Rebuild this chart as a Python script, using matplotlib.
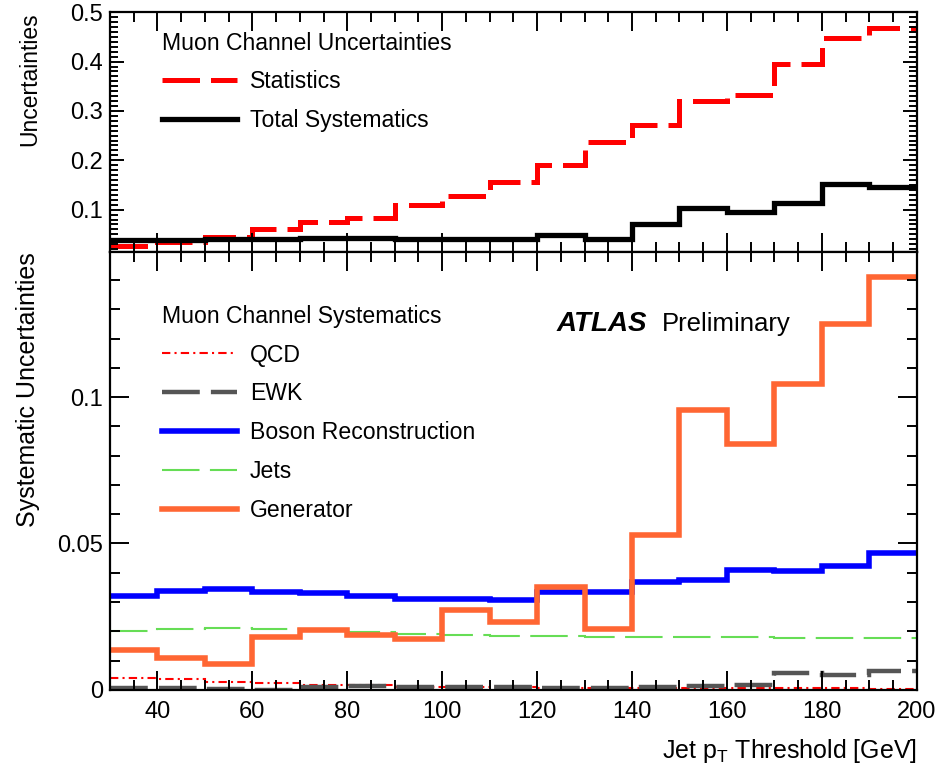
import numpy as np
import matplotlib
matplotlib.use('Agg')
import matplotlib.pyplot as plt
from matplotlib.lines import Line2D
from matplotlib.ticker import MultipleLocator, FuncFormatter

plt.rcParams['font.family'] = ['Liberation Sans', 'DejaVu Sans']

# bin edges of the jet pT threshold
edges = np.arange(30, 201, 10)

# top panel
statistics = [0.026, 0.034, 0.045, 0.060, 0.075, 0.084, 0.110, 0.127, 0.156,
              0.191, 0.238, 0.271, 0.321, 0.333, 0.396, 0.447, 0.468]
total_syst = [0.038, 0.038, 0.040, 0.040, 0.042, 0.043, 0.040, 0.041, 0.041,
              0.049, 0.040, 0.071, 0.103, 0.095, 0.114, 0.151, 0.146]

# bottom panel
qcd = [0.0042, 0.0036, 0.0028, 0.0023, 0.0017, 0.0015, 0.0011, 0.0011, 0.0009,
       0.0008, 0.0008, 0.0007, 0.0007, 0.0006, 0.0005, 0.0005, 0.0003]
ewk = [0.0006, 0.0006, 0.0002, 0.0000, 0.0009, 0.0014, 0.0011, 0.0009, 0.0009,
       0.0006, 0.0008, 0.0009, 0.0014, 0.0016, 0.0059, 0.0051, 0.0063]
boson = [0.0320, 0.0339, 0.0343, 0.0333, 0.0330, 0.0322, 0.0309, 0.0310, 0.0307,
         0.0335, 0.0335, 0.0367, 0.0375, 0.0411, 0.0407, 0.0423, 0.0466]
jets = [0.0201, 0.0208, 0.0212, 0.0208, 0.0205, 0.0199, 0.0191, 0.0188, 0.0185,
        0.0184, 0.0182, 0.0182, 0.0180, 0.0180, 0.0178, 0.0178, 0.0178]
generator = [0.0136, 0.0108, 0.0089, 0.0180, 0.0205, 0.0188, 0.0173, 0.0273, 0.0233,
             0.0350, 0.0207, 0.0528, 0.0957, 0.0841, 0.1045, 0.1250, 0.1409]

RED = '#ff0000'
BLUE = '#0000ff'
GREEN = '#66dd55'
ORANGE = '#ff6633'
GRAY = '#555555'

fig = plt.figure(figsize=(9.51, 7.64), dpi=100)
ax1 = fig.add_axes([0.1157, 0.670, 0.8483, 0.314])
ax2 = fig.add_axes([0.1157, 0.097, 0.8483, 0.573], sharex=ax1)

styles_top = [
    ('Statistics', statistics, dict(color=RED, lw=3.6, linestyle=(0, (7.5, 2.2)))),
    ('Total Systematics', total_syst, dict(color='black', lw=3.8, linestyle='-')),
]
styles_bot = [
    ('QCD', qcd, dict(color=RED, lw=1.5, linestyle=(0, (4, 2, 1, 2)))),
    ('EWK', ewk, dict(color=GRAY, lw=3.2, linestyle=(0, (8.5, 2.5)))),
    ('Boson Reconstruction', boson, dict(color=BLUE, lw=4.0, linestyle='-')),
    ('Jets', jets, dict(color=GREEN, lw=1.5, linestyle=(0, (18, 5)))),
    ('Generator', generator, dict(color=ORANGE, lw=4.0, linestyle='-')),
]


def draw(ax, styles):
    handles = []
    for name, vals, st in styles:
        ax.stairs(vals, edges, baseline=None, fill=False, **st)
        handles.append(Line2D([], [], label=name, **st))
    return handles


h1 = draw(ax1, styles_top)
h2 = draw(ax2, styles_bot)

ax1.set_xlim(30, 200)
ax1.set_ylim(0.014, 0.5)
ax2.set_ylim(0, 0.1495)

fmt = FuncFormatter(lambda v, p: f'{v:g}')
for ax in (ax1, ax2):
    ax.xaxis.set_major_locator(MultipleLocator(20))
    ax.xaxis.set_minor_locator(MultipleLocator(5))
    ax.yaxis.set_major_formatter(fmt)
    ax.tick_params(which='both', direction='in', top=True, right=True,
                   width=1.4, labelsize=17)
    ax.tick_params(axis='y', pad=5)
    ax.tick_params(axis='x', pad=8)
    ax.tick_params(which='major', length=14)
    ax.tick_params(which='minor', length=7)
    for sp in ax.spines.values():
        sp.set_linewidth(1.6)

ax1.yaxis.set_major_locator(MultipleLocator(0.1))
ax1.yaxis.set_minor_locator(MultipleLocator(0.01))
ax1.tick_params(axis='y', which='minor', length=6)
ax1.tick_params(axis='y', which='major', length=10)
ax2.yaxis.set_major_locator(MultipleLocator(0.05))
ax2.yaxis.set_minor_locator(MultipleLocator(0.01))
ax1.tick_params(labelbottom=False)

ax1.set_ylabel('Uncertainties', fontsize=16.5, loc='top')
ax2.set_ylabel('Systematic Uncertainties', fontsize=18, loc='top')
ax1.yaxis.set_label_coords(-0.085, 1.0)
ax2.yaxis.set_label_coords(-0.087, 1.0)
ax2.set_xlabel('Jet p$_{\\mathregular{T}}$ Threshold [GeV]', fontsize=18, loc='right', labelpad=10)

leg_kw = dict(frameon=False, fontsize=16.6, title_fontsize=16.6, alignment='left',
              handlelength=3.25, handletextpad=0.57, borderpad=0, borderaxespad=0,
              loc='upper left')
ax1.legend(handles=h1, title='Muon Channel Uncertainties', labelspacing=0.67,
           bbox_to_anchor=(0.064, 0.918), **leg_kw)
ax2.legend(handles=h2, title='Muon Channel Systematics', labelspacing=0.69,
           bbox_to_anchor=(0.064, 0.88), **leg_kw)

ax2.text(0.553, 0.835, 'ATLAS', transform=ax2.transAxes, fontsize=20,
         fontweight='bold', fontstyle='italic', va='center')
ax2.text(0.684, 0.835, 'Preliminary', transform=ax2.transAxes, fontsize=18.5,
         va='center')

fig.savefig('out.png', dpi=100)
